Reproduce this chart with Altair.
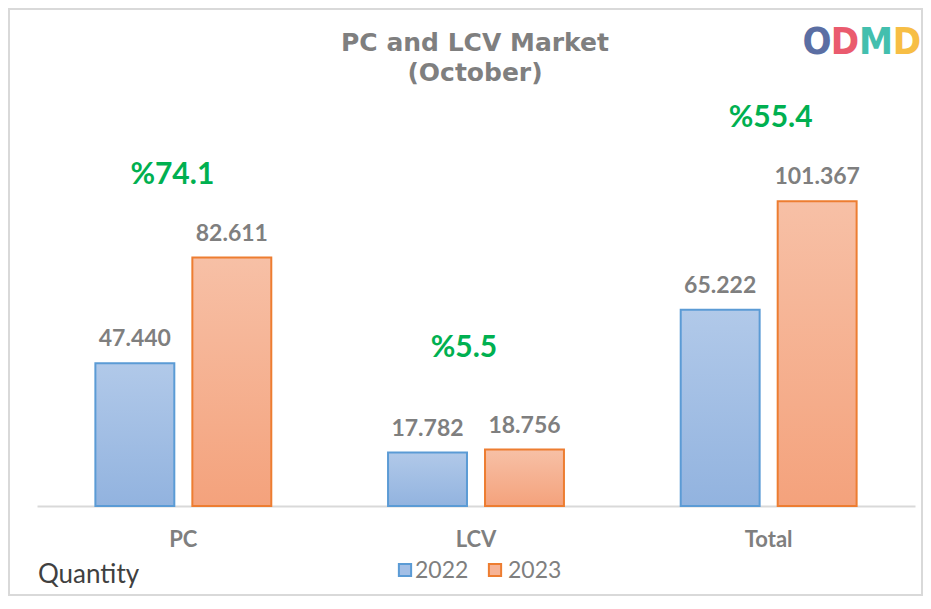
import altair as alt
import pandas as pd

categories = ["PC", "LCV", "Total"]
years = ["2022", "2023"]
values_2022 = [47440, 17782, 65222]
values_2023 = [82611, 18756, 101367]
pct_labels = ["%74.1", "%5.5", "%55.4"]
title_lines = ["PC and LCV Market", "(October)"]
unit_label = "Quantity"

rows = []
for c, v in zip(categories, values_2022):
    rows.append({"category": c, "year": "2022", "value": v})
for c, v in zip(categories, values_2023):
    rows.append({"category": c, "year": "2023", "value": v})
df = pd.DataFrame(rows)

pct_df = pd.DataFrame({
    "category": categories,
    "pct": pct_labels,
    "top": [max(a, b) for a, b in zip(values_2022, values_2023)],
})

W, H = 878, 406
FONT = "Lato"
GRAY = "#7f7f7f"

xscale = alt.Scale(domain=categories, paddingInner=0, paddingOuter=0)
xoff = alt.Scale(domain=years, paddingInner=0.186, paddingOuter=0.602)
yscale = alt.Scale(domain=[0, 135000], nice=False)

x_enc = alt.X("category:N", scale=xscale, sort=categories,
              axis=alt.Axis(title=None, labelFont=FONT, labelFontSize=22,
                            labelFontWeight="bold", labelColor=GRAY,
                            domainColor="#d9d9d9", domainWidth=2, ticks=False,
                            tickSize=0, labelPadding=40, labelBaseline="alphabetic",
                            labelAngle=0, grid=False))
y_enc = alt.Y("value:Q", scale=yscale, axis=None)

base = alt.Chart(df)

blue_grad = alt.Gradient(gradient="linear", x1=0, x2=0, y1=0, y2=1,
                         stops=[alt.GradientStop(color="#b1c9e9", offset=0),
                                alt.GradientStop(color="#92b3df", offset=1)])
orange_grad = alt.Gradient(gradient="linear", x1=0, x2=0, y1=0, y2=1,
                           stops=[alt.GradientStop(color="#f7c0a6", offset=0),
                                  alt.GradientStop(color="#f4a27c", offset=1)])

bars22 = base.transform_filter(alt.datum.year == "2022").mark_bar(
    fill=blue_grad, stroke="#5b9bd5", strokeWidth=2
).encode(x=x_enc, xOffset=alt.XOffset("year:N", scale=xoff), y=y_enc)

bars23 = base.transform_filter(alt.datum.year == "2023").mark_bar(
    fill=orange_grad, stroke="#ed7d31", strokeWidth=2
).encode(x=x_enc, xOffset=alt.XOffset("year:N", scale=xoff), y=y_enc)

value_labels = base.transform_calculate(
    label="replace(format(datum.value, ',d'), ',', '.')"
).mark_text(font=FONT, fontSize=23, fontWeight="bold", color=GRAY,
            baseline="alphabetic", dy=-17).encode(
    x=x_enc, xOffset=alt.XOffset("year:N", scale=xoff), y=y_enc,
    text="label:N")

# per-label nudges (style only) to mimic manual placement in the original
pct_dx = {"PC": -11, "LCV": -12, "Total": 2}
pct_dy = {"PC": -74, "LCV": -93, "Total": -74}
pct_base = alt.Chart(pct_df)
pct_layers = []
for c in categories:
    pct_layers.append(pct_base.transform_filter(alt.datum.category == c).mark_text(
        font=FONT, fontSize=30, fontWeight="bold", color="#00b050",
        baseline="alphabetic", dy=pct_dy[c], dx=pct_dx[c]).encode(
        x=x_enc, y=alt.Y("top:Q", scale=yscale, axis=None), text="pct:N"))

one = alt.Data(values=[{"a": 1}])

TITLE_FONT = "DejaVu Sans"
title1 = alt.Chart(one).mark_text(font=TITLE_FONT, fontSize=25, fontWeight="bold",
                                  color=GRAY, baseline="alphabetic",
                                  text=title_lines[0]).encode(
    x=alt.value(438), y=alt.value(-49))
title2 = alt.Chart(one).mark_text(font=TITLE_FONT, fontSize=25, fontWeight="bold",
                                  color=GRAY, baseline="alphabetic",
                                  text=title_lines[1]).encode(
    x=alt.value(438), y=alt.value(-19))

quantity = alt.Chart(one).mark_text(font=FONT, fontSize=26, color="#404040",
                                    baseline="alphabetic", align="left",
                                    text=unit_label).encode(
    x=alt.value(1), y=alt.value(483))

leg_sq1 = alt.Chart(one).mark_square(size=150, fill="#a3bfe6", stroke="#5b9bd5",
                                     strokeWidth=2, opacity=1).encode(
    x=alt.value(368), y=alt.value(470))
leg_sq2 = alt.Chart(one).mark_square(size=150, fill="#f6b396", stroke="#ed7d31",
                                     strokeWidth=2, opacity=1).encode(
    x=alt.value(458), y=alt.value(470))
leg_t1 = alt.Chart(one).mark_text(font=FONT, fontSize=23, color=GRAY,
                                  baseline="alphabetic", align="left",
                                  text=years[0]).encode(
    x=alt.value(378), y=alt.value(478))
leg_t2 = alt.Chart(one).mark_text(font=FONT, fontSize=23, color=GRAY,
                                  baseline="alphabetic", align="left",
                                  text=years[1]).encode(
    x=alt.value(471), y=alt.value(478))

logo_letters = ["O", "D", "M", "D"]
logo_colors = ["#4a5f9a", "#e84a5f", "#2fb9a6", "#f7b731"]
logo_x = [780, 808, 839, 870]
logo_layers = []
for L, col, lx in zip(logo_letters, logo_colors, logo_x):
    logo_layers.append(alt.Chart(one).mark_text(
        font="DejaVu Sans Condensed", fontSize=38, fontWeight="bold",
        color=col, opacity=0.9, baseline="alphabetic", text=L).encode(
        x=alt.value(lx), y=alt.value(-46)))

border = alt.Chart(one).mark_rect(fill="transparent", stroke="#d9d9d9",
                                  strokeWidth=2).encode(
    x=alt.value(-28), x2=alt.value(885), y=alt.value(-91), y2=alt.value(495))

chart = alt.layer(
    border, bars22, bars23, value_labels, *pct_layers,
    title1, title2, quantity, leg_sq1, leg_sq2, leg_t1, leg_t2, *logo_layers
).properties(
    width=W, height=H,
    autosize=alt.AutoSizeParams(type="none"),
    padding={"left": 29, "top": 92, "right": 8, "bottom": 90},
).configure_view(stroke=None)

chart.save("out.html", embed_options={"renderer": "svg", "actions": False})
